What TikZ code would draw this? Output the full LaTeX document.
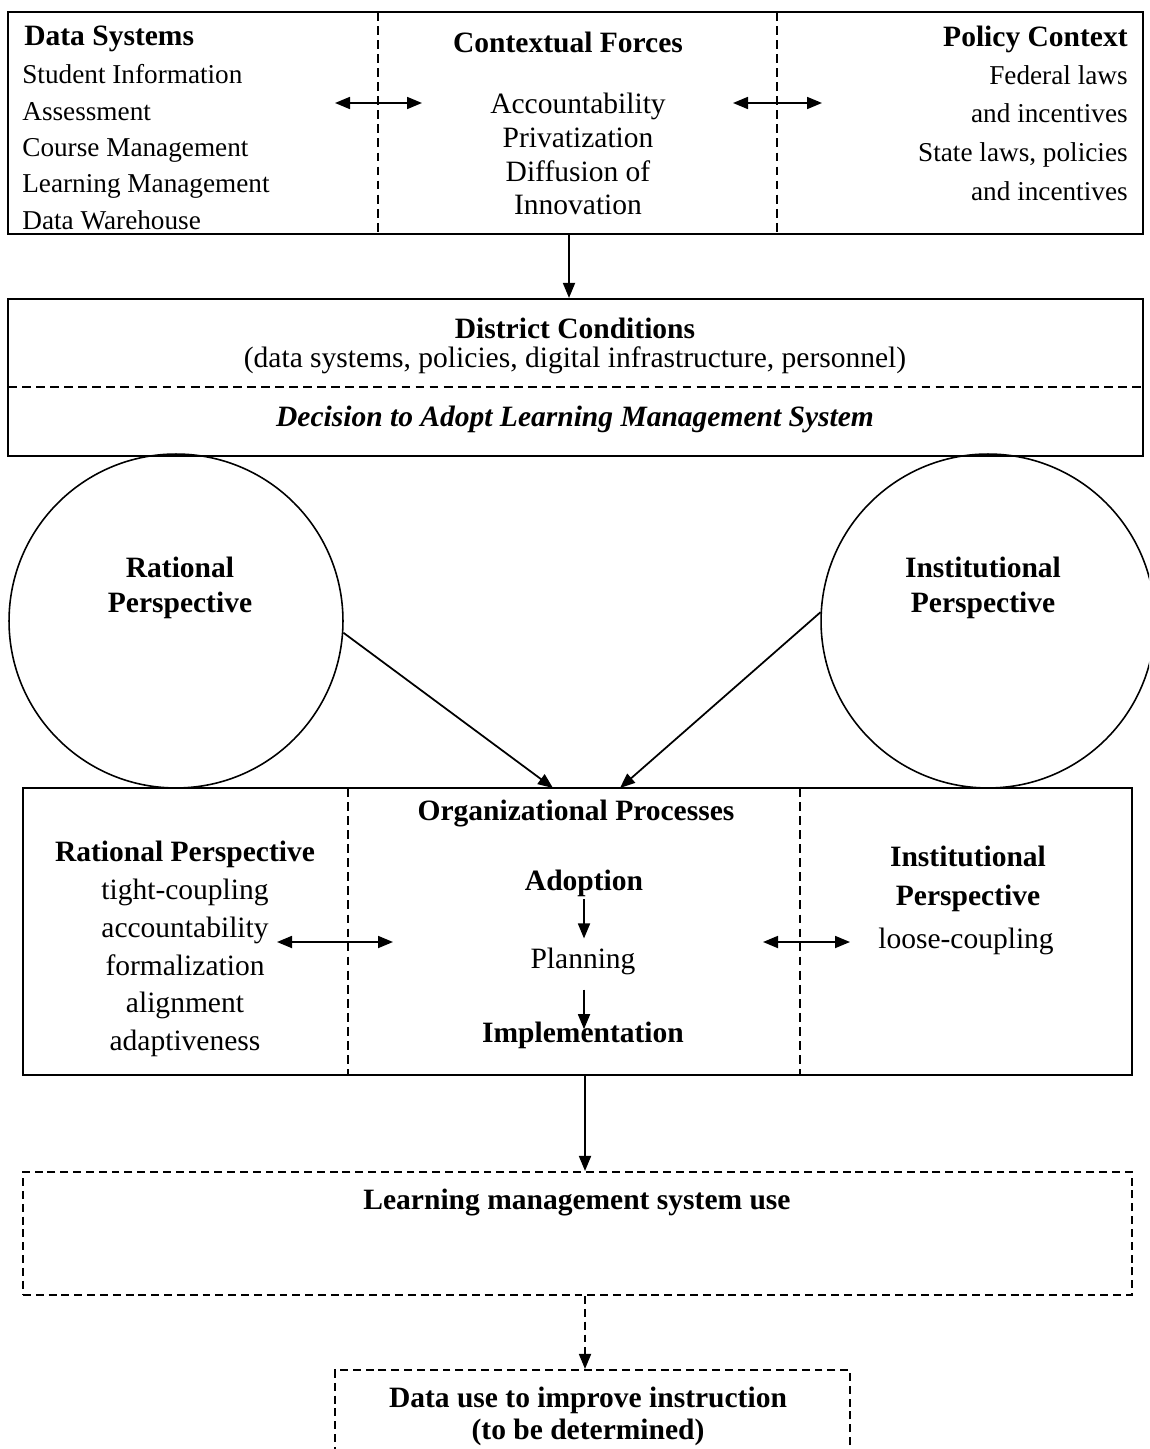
\documentclass[tikz,border=0pt]{standalone}
\usepackage{fontspec}
\setmainfont{Liberation Serif}
\usetikzlibrary{arrows.meta}
\usetikzlibrary{fit}
\usetikzlibrary{positioning}
\tikzset{
    frame/.style = {draw,line width=1.2pt,inner sep=0},
    dframe/.style = {draw,line width=1.2pt,dash pattern=on 4.5pt off 2.8pt,inner sep=0},
    divider/.style = {line width=0.8pt,dash pattern=on 5pt off 3pt},
    circ/.style = {draw,circle,line width=0.9pt,minimum size=6.68cm,inner sep=0},
    txt/.style = {inner sep=0,align=center},
    head/.style = {txt,font=\fontsize{16.8}{#1}\selectfont\bfseries},
    head/.default = {20pt},
    lines/.style = {txt,font=\fontsize{16.8}{#1}\selectfont},
    small/.style = {txt,font=\fontsize{15.5}{#1}\selectfont}
}
\tikzset{
    tip/.tip = {Triangle[length=0.3cm,width=0.24cm]},
    flow/.style = {-tip,line width=1pt},
    dflow/.style = {flow,dash pattern=on 4.5pt off 2.8pt},
    mutual/.style = {tip-tip,line width=1pt}
}

\begin{document}
\begin{tikzpicture}[x=0.02cm,y=-0.02cm,font=\fontsize{16.8}{20pt}\selectfont]
    \clip (0,0) rectangle (1149,1449);
    % Context box
    \node[frame,fit={(8,12) (1143,234)}] (forces) {};
    \draw[divider] (378,12) -- (378,234);
    \draw[divider] (777,12) -- (777,234);
    \node[head,anchor=west] (dsys) at (24,39) {Data Systems};
    \node[small=20.7pt,align=left,anchor=west] (dlist) at (22,147)
        {Student Information\\Assessment\\Course Management\\Learning Management\\Data Warehouse};
    \node[head] (ctx) at (568,42) {Contextual Forces};
    \node[lines=19.3pt] (clist) at (578,154)
        {Accountability\\Privatization\\Diffusion of\\Innovation};
    \node[head,anchor=east] (pol) at (1128,39) {Policy Context};
    \node[small=22.1pt,align=right,anchor=east] (plist) at (1128,133)
        {Federal laws\\and incentives\\State laws, policies\\and incentives};
    \coordinate (m1a) at (335,103);
    \coordinate (m1b) at (422,103);
    \coordinate (m2a) at (733,103);
    \coordinate (m2b) at (822,103);
    \draw[mutual] (m1a) -- (m1b);
    \draw[mutual] (m2a) -- (m2b);
    % District box
    \node[frame,fit={(8,299) (1143,456)}] (district) {};
    \draw[divider] (8,387) -- (1143,387);
    \node[head] (dcond) at (575,328) {District Conditions};
    \node[txt] (dsub) at (575,360) {(data systems, policies, digital infrastructure, personnel)};
    \node[head,font=\fontsize{16.8}{20pt}\selectfont\bfseries\itshape] (decide) at (575,419)
        {Decision to Adopt Learning Management System};
    \coordinate (dn1) at (569,0);
    \draw[flow] (forces.south -| dn1) -- (district.north -| dn1);
    % Perspectives
    \node[circ] (rat) at (176,621) {};
    \node[circ] (inst) at (988,621) {};
    \node[head=19.9pt] (ratlbl) at (180,588) {Rational\\Perspective};
    \node[head=19.9pt] (instlbl) at (983,588) {Institutional\\Perspective};
    % Organizational processes
    \node[frame,fit={(23,788) (1132,1075)}] (org) {};
    \draw[divider] (348,788) -- (348,1075);
    \draw[divider] (800,788) -- (800,1075);
    \coordinate (in1) at (553,788);
    \coordinate (in2) at (620,788);
    \draw[flow] (rat.-4) -- (in1);
    \draw[flow] (inst.177) -- (in2);
    \node[head] (orgp) at (576,814) {Organizational Processes};
    \node[head] (rhead) at (185,854) {Rational Perspective};
    \node[lines=21.5pt] (rlist) at (185,968)
        {tight-coupling\\accountability\\formalization\\alignment\\adaptiveness};
    \node[head] (adopt) at (584,883) {Adoption};
    \node[txt] (plan) at (583,961) {Planning};
    \node[head] (impl) at (583,1035) {Implementation};
    \draw[flow] ([yshift=-1.5pt]adopt.south) -- ([yshift=5pt]plan.north -| adopt);
    \draw[flow] ([yshift=-8.5pt]plan.south -| adopt) -- ([yshift=-4.5pt]impl.north -| adopt);
    \node[head=22pt] (ihead) at (968,879) {Institutional\\Perspective};
    \node[txt] (ilist) at (966,941) {loose-coupling};
    \coordinate (m3a) at (277,942);
    \coordinate (m3b) at (393,942);
    \coordinate (m4a) at (763,942);
    \coordinate (m4b) at (850,942);
    \draw[mutual] (m3a) -- (m3b);
    \draw[mutual] (m4a) -- (m4b);
    % Outcomes
    \node[dframe,fit={(23,1172) (1132,1295)}] (lms) {};
    \node[head] (lmsuse) at (577,1203) {Learning management system use};
    \node[dframe,fit={(335,1370) (850,1520)}] (datause) {};
    \node[head=18.1pt] (dulbl) at (588,1416) {Data use to improve instruction\\(to be determined)};
    \coordinate (dn2) at (585,0);
    \draw[flow] (org.south -| dn2) -- (lms.north -| dn2);
    \draw[dflow] (lms.south -| dn2) -- (datause.north -| dn2);
\end{tikzpicture}
\end{document}
